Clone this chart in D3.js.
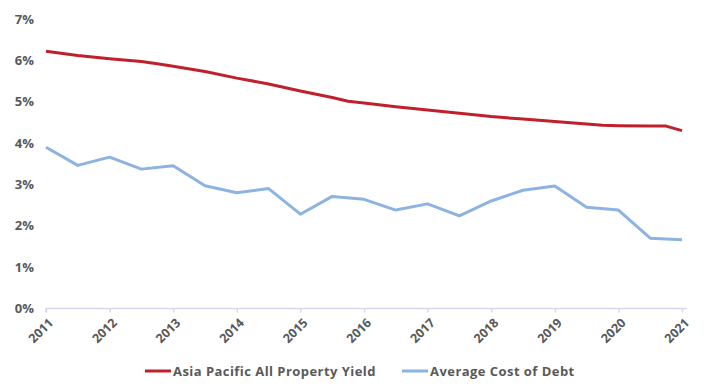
<!DOCTYPE html>
<html>
<head>
<meta charset="utf-8">
<script src="https://cdn.jsdelivr.net/npm/d3@7"></script>
<style>
  body { margin: 0; background: #fff; }
  text { font-family: "Open Sans", sans-serif; font-weight: 700; fill: #595959; }
</style>
</head>
<body>
<svg width="726" height="390"></svg>
<script>
// yield series (some quarter points where the line bends)
const yieldDates = [2011, 2011.5, 2012, 2012.5, 2012.75, 2013, 2013.5, 2014, 2014.5, 2015, 2015.5, 2015.75,
  2016, 2016.5, 2017, 2017.5, 2018, 2018.5, 2019, 2019.5, 2019.75, 2020, 2020.5, 2020.75, 2021];
const yieldValues = [6.22, 6.12, 6.04, 5.97, 5.92, 5.86, 5.73, 5.57, 5.43, 5.26, 5.10, 5.01,
  4.97, 4.88, 4.80, 4.72, 4.64, 4.58, 4.52, 4.46, 4.43, 4.42, 4.41, 4.41, 4.30];

const debtDates = [2011, 2011.5, 2012, 2012.5, 2013, 2013.5, 2014, 2014.5, 2015, 2015.5,
  2016, 2016.5, 2017, 2017.5, 2018, 2018.5, 2019, 2019.5, 2020, 2020.5, 2021];
const debtValues = [3.90, 3.46, 3.66, 3.37, 3.45, 2.97, 2.80, 2.90, 2.28, 2.71,
  2.64, 2.38, 2.53, 2.24, 2.60, 2.86, 2.96, 2.45, 2.38, 1.70, 1.66];

const xTicks = [2011, 2012, 2013, 2014, 2015, 2016, 2017, 2018, 2019, 2020, 2021];
const yTicks = [0, 1, 2, 3, 4, 5, 6, 7];
const seriesNames = ['Asia Pacific All Property Yield', 'Average Cost of Debt'];
const colors = ['#c0202c', '#8db3e2'];

const svg = d3.select('svg');

const x = d3.scaleLinear().domain([2011, 2021]).range([46, 682]);
const y = d3.scaleLinear().domain([0, 7]).range([308.5, 19]);

// y labels, no axis line
svg.append('g')
  .selectAll('text')
  .data(yTicks)
  .enter()
  .append('text')
  .attr('x', 34)
  .attr('y', (d) => y(d))
  .attr('dy', '0.35em')
  .attr('text-anchor', 'end')
  .style('font-size', '13px')
  .text((d) => d + '%');

// x axis
const xAxis = svg.append('g')
  .attr('transform', `translate(0, ${y(0)})`)
  .call(d3.axisBottom(x).tickValues(xTicks).tickSize(4).tickFormat(''));
xAxis.select('.domain').attr('stroke', '#d9d9e9').attr('stroke-width', 1.5)
  .attr('d', `M${x(2011)},4V0H${x(2021) + 5}`);
xAxis.selectAll('.tick line').attr('stroke', '#d9d9e9').attr('stroke-width', 1.5);

svg.append('g')
  .selectAll('text')
  .data(xTicks)
  .enter()
  .append('text')
  .attr('transform', (d) => `translate(${x(d) + 5}, ${y(0) + 12}) rotate(-45)`)
  .attr('text-anchor', 'end')
  .attr('dy', '0.35em')
  .style('font-size', '12.5px')
  .text((d) => d);

const line = d3.line()
  .x((d) => x(d[0]))
  .y((d) => y(d[1]));

const series = [
  d3.zip(yieldDates, yieldValues),
  d3.zip(debtDates, debtValues)
];

// draw blue first so red sits on top
[1, 0].forEach((i) => {
  svg.append('path')
    .datum(series[i])
    .attr('fill', 'none')
    .attr('stroke', colors[i])
    .attr('stroke-width', 3)
    .attr('stroke-linejoin', 'round')
    .attr('d', line);
});

// legend
const legendX = [145, 402];
const legend = svg.append('g');
seriesNames.forEach((name, i) => {
  legend.append('line')
    .attr('x1', legendX[i]).attr('x2', legendX[i] + 26)
    .attr('y1', 371).attr('y2', 371)
    .attr('stroke', colors[i])
    .attr('stroke-width', 3);
  legend.append('text')
    .attr('x', legendX[i] + 28)
    .attr('y', 371)
    .attr('dy', '0.35em')
    .style('font-size', '13px')
    .style('letter-spacing', '0.45px')
    .text(name);
});
</script>
</body>
</html>
